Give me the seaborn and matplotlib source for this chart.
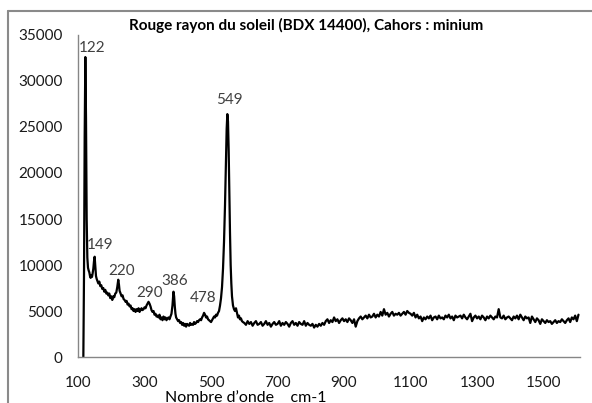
import numpy as np
import pandas as pd
import matplotlib
matplotlib.use("Agg")
import matplotlib.pyplot as plt
import seaborn as sns
from matplotlib.lines import Line2D

# --- données lues sur le spectre ---
# zone des pics (x explicite)
X_PEAKS = [116, 118, 120, 122, 124, 126, 128, 130, 132, 134, 136, 138, 140, 142, 144, 146, 148, 150,
           152, 154, 156, 158, 161, 164, 167, 170, 173, 176, 179, 182, 185, 188, 191, 194, 197, 200,
           203, 206, 209, 212, 215, 218, 221, 223, 225, 228, 231, 234, 237, 240, 243, 246, 249, 252,
           255, 258, 261, 264, 267, 270, 273, 276, 279, 282, 285, 288, 291, 294, 297, 300, 303, 306,
           309, 312, 315, 318, 321, 324, 327, 330, 333, 336, 339, 342, 345, 348, 351, 354, 357, 360,
           363, 366, 369, 372, 375, 378, 381, 384, 387, 389, 391, 393, 395, 398, 401, 404, 407, 410,
           413, 416, 419, 422, 425, 428, 431, 434, 437, 440, 443, 446, 449, 452, 455, 458, 461, 464,
           467, 470, 473, 476, 479, 482, 485, 488, 491, 494, 497, 500, 503, 506, 509, 512, 515, 518,
           521, 524, 527, 530, 533, 536, 539, 542, 545, 547, 549, 551, 553, 555, 557, 559, 561, 563,
           566, 569, 572, 575, 578, 581, 584, 587, 590, 593, 596]
Y_PEAKS = [0, 9000, 24000, 32600, 26000, 15000, 10800, 9700, 9400, 9200, 8800, 8600, 8900, 8700, 9100, 9600, 10400, 10900,
           9800, 8800, 8500, 8300, 8000, 8200, 7700, 7800, 7400, 7500, 7100, 7300, 6900, 7000, 6700, 6900, 6400, 6600,
           6200, 6600, 6500, 6900, 7000, 7600, 8400, 7900, 7200, 6900, 6600, 6700, 6300, 6200, 6000, 6100, 5700, 5800,
           5500, 5600, 5200, 5300, 5000, 5200, 4900, 5200, 5000, 5300, 4900, 5100, 5300, 5100, 5200, 5400, 5300, 5600,
           5800, 6000, 5800, 5500, 5100, 4900, 5000, 4600, 4700, 4400, 4500, 4300, 4600, 4100, 4300, 4000, 4400, 4100,
           4300, 4000, 4200, 4300, 4100, 4400, 4700, 5600, 7100, 6600, 5500, 4700, 4300, 4100, 3900, 4000, 3700, 3800,
           3500, 3700, 3400, 3600, 3300, 3600, 3500, 3400, 3700, 3500, 3600, 3500, 3800, 3600, 3700, 3900, 3800, 4000,
           4100, 4000, 4300, 4500, 4800, 4600, 4300, 4400, 4100, 4000, 3900, 3800, 4000, 4200, 4400, 4300, 4600, 4500,
           4800, 5000, 5600, 6400, 7600, 9600, 12500, 16500, 21500, 24800, 26400, 25600, 22500, 18000, 13500, 10000, 8000, 6600,
           5600, 5200, 5000, 5300, 4800, 4300, 4500, 4100, 4200, 3900, 3800]

# ligne de base bruitée, pas de 5 cm-1 à partir de 600
Y_BASE = [3700, 3500, 3900, 3600, 3800, 3400, 3700, 3900, 3500, 3600,
          3800, 3400, 3600, 3900, 3500, 3700, 3300, 3600, 3800, 3500,
          3600, 3900, 3400, 3700, 3500, 3800, 3600, 3300, 3700, 3900,
          3500, 3700, 3400, 3800, 3600, 3500, 3900, 3400, 3700, 3500,
          3400, 3600, 3200, 3500, 3300, 3600, 3400, 3700, 3500, 3900,
          4100, 3700, 4000, 3800, 4300, 3900, 4100, 3700, 4000, 4200,
          3900, 4100, 3800, 4200, 4000, 3700, 4100, 3300, 3900, 4200,
          4400, 4100, 4300, 4500, 4200, 4600, 4300, 4400, 4700, 4300,
          4600, 4400, 4900, 4500, 5200, 4600, 4800, 4400, 4700, 4900,
          4500, 4700, 4600, 4800, 4500, 4700, 4900, 4600, 5000, 4800,
          4700, 4500, 4800, 4300, 4600, 4200, 4400, 3900, 4300, 4100,
          4400, 4200, 4500, 4000, 4300, 4400, 4100, 4500, 4200, 4300,
          4100, 4500, 4300, 4600, 4200, 4400, 4000, 4500, 4300, 4400,
          4500, 4200, 4600, 4300, 4100, 4400, 4700, 3900, 4300, 4500,
          4200, 4400, 4100, 4500, 4300, 4000, 4400, 4200, 4500, 4300,
          4100, 4400, 4300, 5200, 4300, 4200, 4500, 4100, 4300, 4400,
          4200, 4000, 4400, 4200, 4500, 4100, 4600, 4300, 4000, 4400,
          4200, 4300, 3700, 4400, 4100, 3800, 4200, 4000, 3600, 4100,
          3900, 3700, 4000, 3800, 3900, 3600, 3800, 4000, 3700, 3900,
          3800, 4100, 3900, 3700, 4000, 4200, 3800, 4300, 4100, 4500,
          3900, 4600]
X_BASE = list(range(600, 600 + 5 * len(Y_BASE), 5))

PEAK_LABELS = ["122", "149", "220", "290", "386", "478", "549"]
# positions des étiquettes (coordonnées données)
LABEL_POS = [(143, 33600), (166, 12150), (231, 9350), (315, 6950), (390, 8250), (476, 6400), (554, 27900)]

X_TICKS = [100, 300, 500, 700, 900, 1100, 1300, 1500]
Y_TICKS = [0, 5000, 10000, 15000, 20000, 25000, 30000, 35000]

df = pd.DataFrame({"x": X_PEAKS + X_BASE, "y": Y_PEAKS + Y_BASE})

sns.set_style("white")
plt.rcParams["font.family"] = ["Lato", "DejaVu Sans"]

fig = plt.figure(figsize=(5.92, 4.03), dpi=100)
ax = fig.add_axes([0.1318, 0.1141, 0.98 - 0.1318, 0.9132 - 0.1141])

sns.lineplot(data=df, x="x", y="y", sort=False, estimator=None, color="black", linewidth=1.6, ax=ax)

ax.set_xlim(100, 1610)
ax.set_ylim(0, 35000)
ax.set_xticks(X_TICKS)
ax.set_yticks(Y_TICKS)
ax.set_xlabel("")
ax.set_ylabel("")
for s in ["top", "right"]:
    ax.spines[s].set_visible(False)
for s in ["left", "bottom"]:
    ax.spines[s].set_color("#868686")
    ax.spines[s].set_linewidth(1.0)
ax.tick_params(axis="both", direction="out", length=4, width=1, color="#868686",
               labelsize=11, labelcolor="#1a1a1a")
ax.tick_params(axis="x", pad=10)
ax.tick_params(axis="y", pad=7)

for lab, (lx, ly) in zip(PEAK_LABELS, LABEL_POS):
    ax.text(lx, ly, lab, ha="center", va="center", fontsize=11, color="#404040")

fig.text(0.517, 0.938, "Rouge rayon du soleil (BDX 14400), Cahors : minium",
         ha="center", va="center", fontsize=11, fontweight="bold", color="black")
fig.text(165 / 592, 1 / 403, "Nombre d\u2019onde    cm-1", ha="left", va="baseline",
         fontsize=11.5, color="black")

# cadre du graphique
fig.add_artist(Line2D([8 / 592, 1], [1 - 10.5 / 403, 1 - 10.5 / 403], color="#8a8a8a", linewidth=1.5))
fig.add_artist(Line2D([8 / 592, 8 / 592], [0, 1 - 10.5 / 403], color="#8a8a8a", linewidth=1.5))

fig.savefig("out.png", dpi=100)
